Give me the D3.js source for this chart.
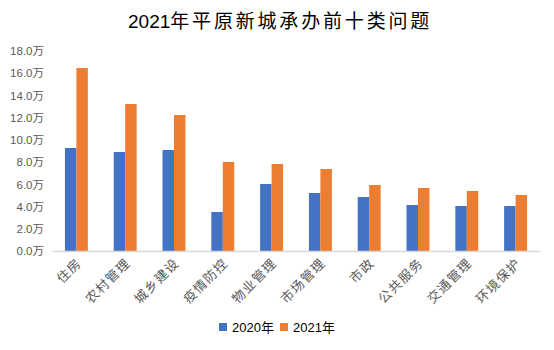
<!DOCTYPE html>
<html><head><meta charset="utf-8">
<script src="https://cdn.jsdelivr.net/npm/d3@7"></script>
<style>
html,body{margin:0;padding:0;background:#fff;}
text{font-family:"Liberation Sans",Arial,"Noto Sans CJK SC",sans-serif;}
</style></head>
<body>
<svg id="chart" width="554" height="350"></svg>
<script>
const categories = ["住房","农村管理","城乡建设","疫情防控","物业管理","市场管理","市政","公共服务","交通管理","环境保护"];
const seriesNames = ["2020年","2021年"];
const values2020 = [9.27, 8.91, 9.09, 3.51, 6.03, 5.22, 4.86, 4.14, 4.05, 4.05];
const values2021 = [16.47, 13.23, 12.24, 8.01, 7.83, 7.38, 5.94, 5.67, 5.40, 5.04];
const yTicks = [0, 2, 4, 6, 8, 10, 12, 14, 16, 18];
const colors = ["#4472C4", "#ED7D31"];
const titleYear = "2021";
const titleRest = "年平原新城承办前十类问题";

const svg = d3.select("#chart");
const W = 554, H = 350;
svg.append("rect").attr("width", W).attr("height", H).attr("fill", "#fff");

const plot = {left: 52, right: 540, top: 51, bottom: 251};

const x0 = d3.scaleBand().domain(categories).range([plot.left, plot.right])
  .paddingInner(0.53).paddingOuter(0.265);
const x1 = d3.scaleBand().domain(seriesNames).range([0, x0.bandwidth()]);
const y = d3.scaleLinear().domain([0, 18]).range([plot.bottom, plot.top]);

// title
const title = svg.append("text").attr("x", 128).attr("y", 28).attr("text-anchor", "start")
  .attr("fill", "#000");
title.append("tspan").attr("font-size", "19px").text(titleYear);
title.append("tspan").attr("font-size", "19px")
  .attr("textLength", 259).attr("lengthAdjust", "spacing")
  .style("font-family", "'Noto Sans CJK SC',sans-serif").text(titleRest);

// y axis labels
const yAxis = d3.axisLeft(y).tickValues(yTicks).tickSize(0).tickPadding(8)
  .tickFormat(d => d3.format(".1f")(d) + "万");
const gy = svg.append("g").attr("transform", `translate(${plot.left},0)`).call(yAxis);
gy.select(".domain").remove();
gy.selectAll("text").attr("fill", "#595959").attr("font-size", "11.5px")
  .style("font-family", "'Liberation Sans','Noto Sans CJK SC',sans-serif");

// bars
const data = categories.map((c, i) => ({cat: c, vals: [values2020[i], values2021[i]]}));
const groups = svg.append("g").selectAll("g").data(data).join("g")
  .attr("transform", d => `translate(${x0(d.cat)},0)`);
groups.selectAll("rect").data(d => d.vals.map((v, j) => ({name: seriesNames[j], v, j})))
  .join("rect")
  .attr("x", d => x1(d.name))
  .attr("width", x1.bandwidth())
  .attr("y", d => y(d.v))
  .attr("height", d => y(0) - y(d.v))
  .attr("fill", d => colors[d.j]);

// x axis
const xAxis = d3.axisBottom(x0).tickSize(0).tickPadding(0);
const gx = svg.append("g").attr("transform", `translate(0,${plot.bottom})`).call(xAxis);
gx.select(".domain").attr("stroke", "#d9d9d9").attr("stroke-width", 1.3);
gx.selectAll("text")
  .attr("fill", "#595959").attr("font-size", "13px")
  .attr("letter-spacing", "1.2px")
  .style("font-family", "'Noto Sans CJK SC',sans-serif")
  .attr("text-anchor", "end")
  .attr("dy", null).attr("y", null)
  .attr("transform", "translate(6,13) rotate(-45)");

// legend
const legend = svg.append("g").attr("transform", "translate(219,323)");
const items = [{name: seriesNames[0], x: 0}, {name: seriesNames[1], x: 61}];
items.forEach((it, i) => {
  legend.append("rect").attr("x", it.x).attr("y", 0).attr("width", 8).attr("height", 8).attr("fill", colors[i]);
  legend.append("text").attr("x", it.x + 13).attr("y", 8.5).attr("font-size", "13px")
    .attr("fill", "#000")
    .style("font-family", "'Liberation Sans','Noto Sans CJK SC',sans-serif")
    .text(it.name);
});
</script>
</body></html>
